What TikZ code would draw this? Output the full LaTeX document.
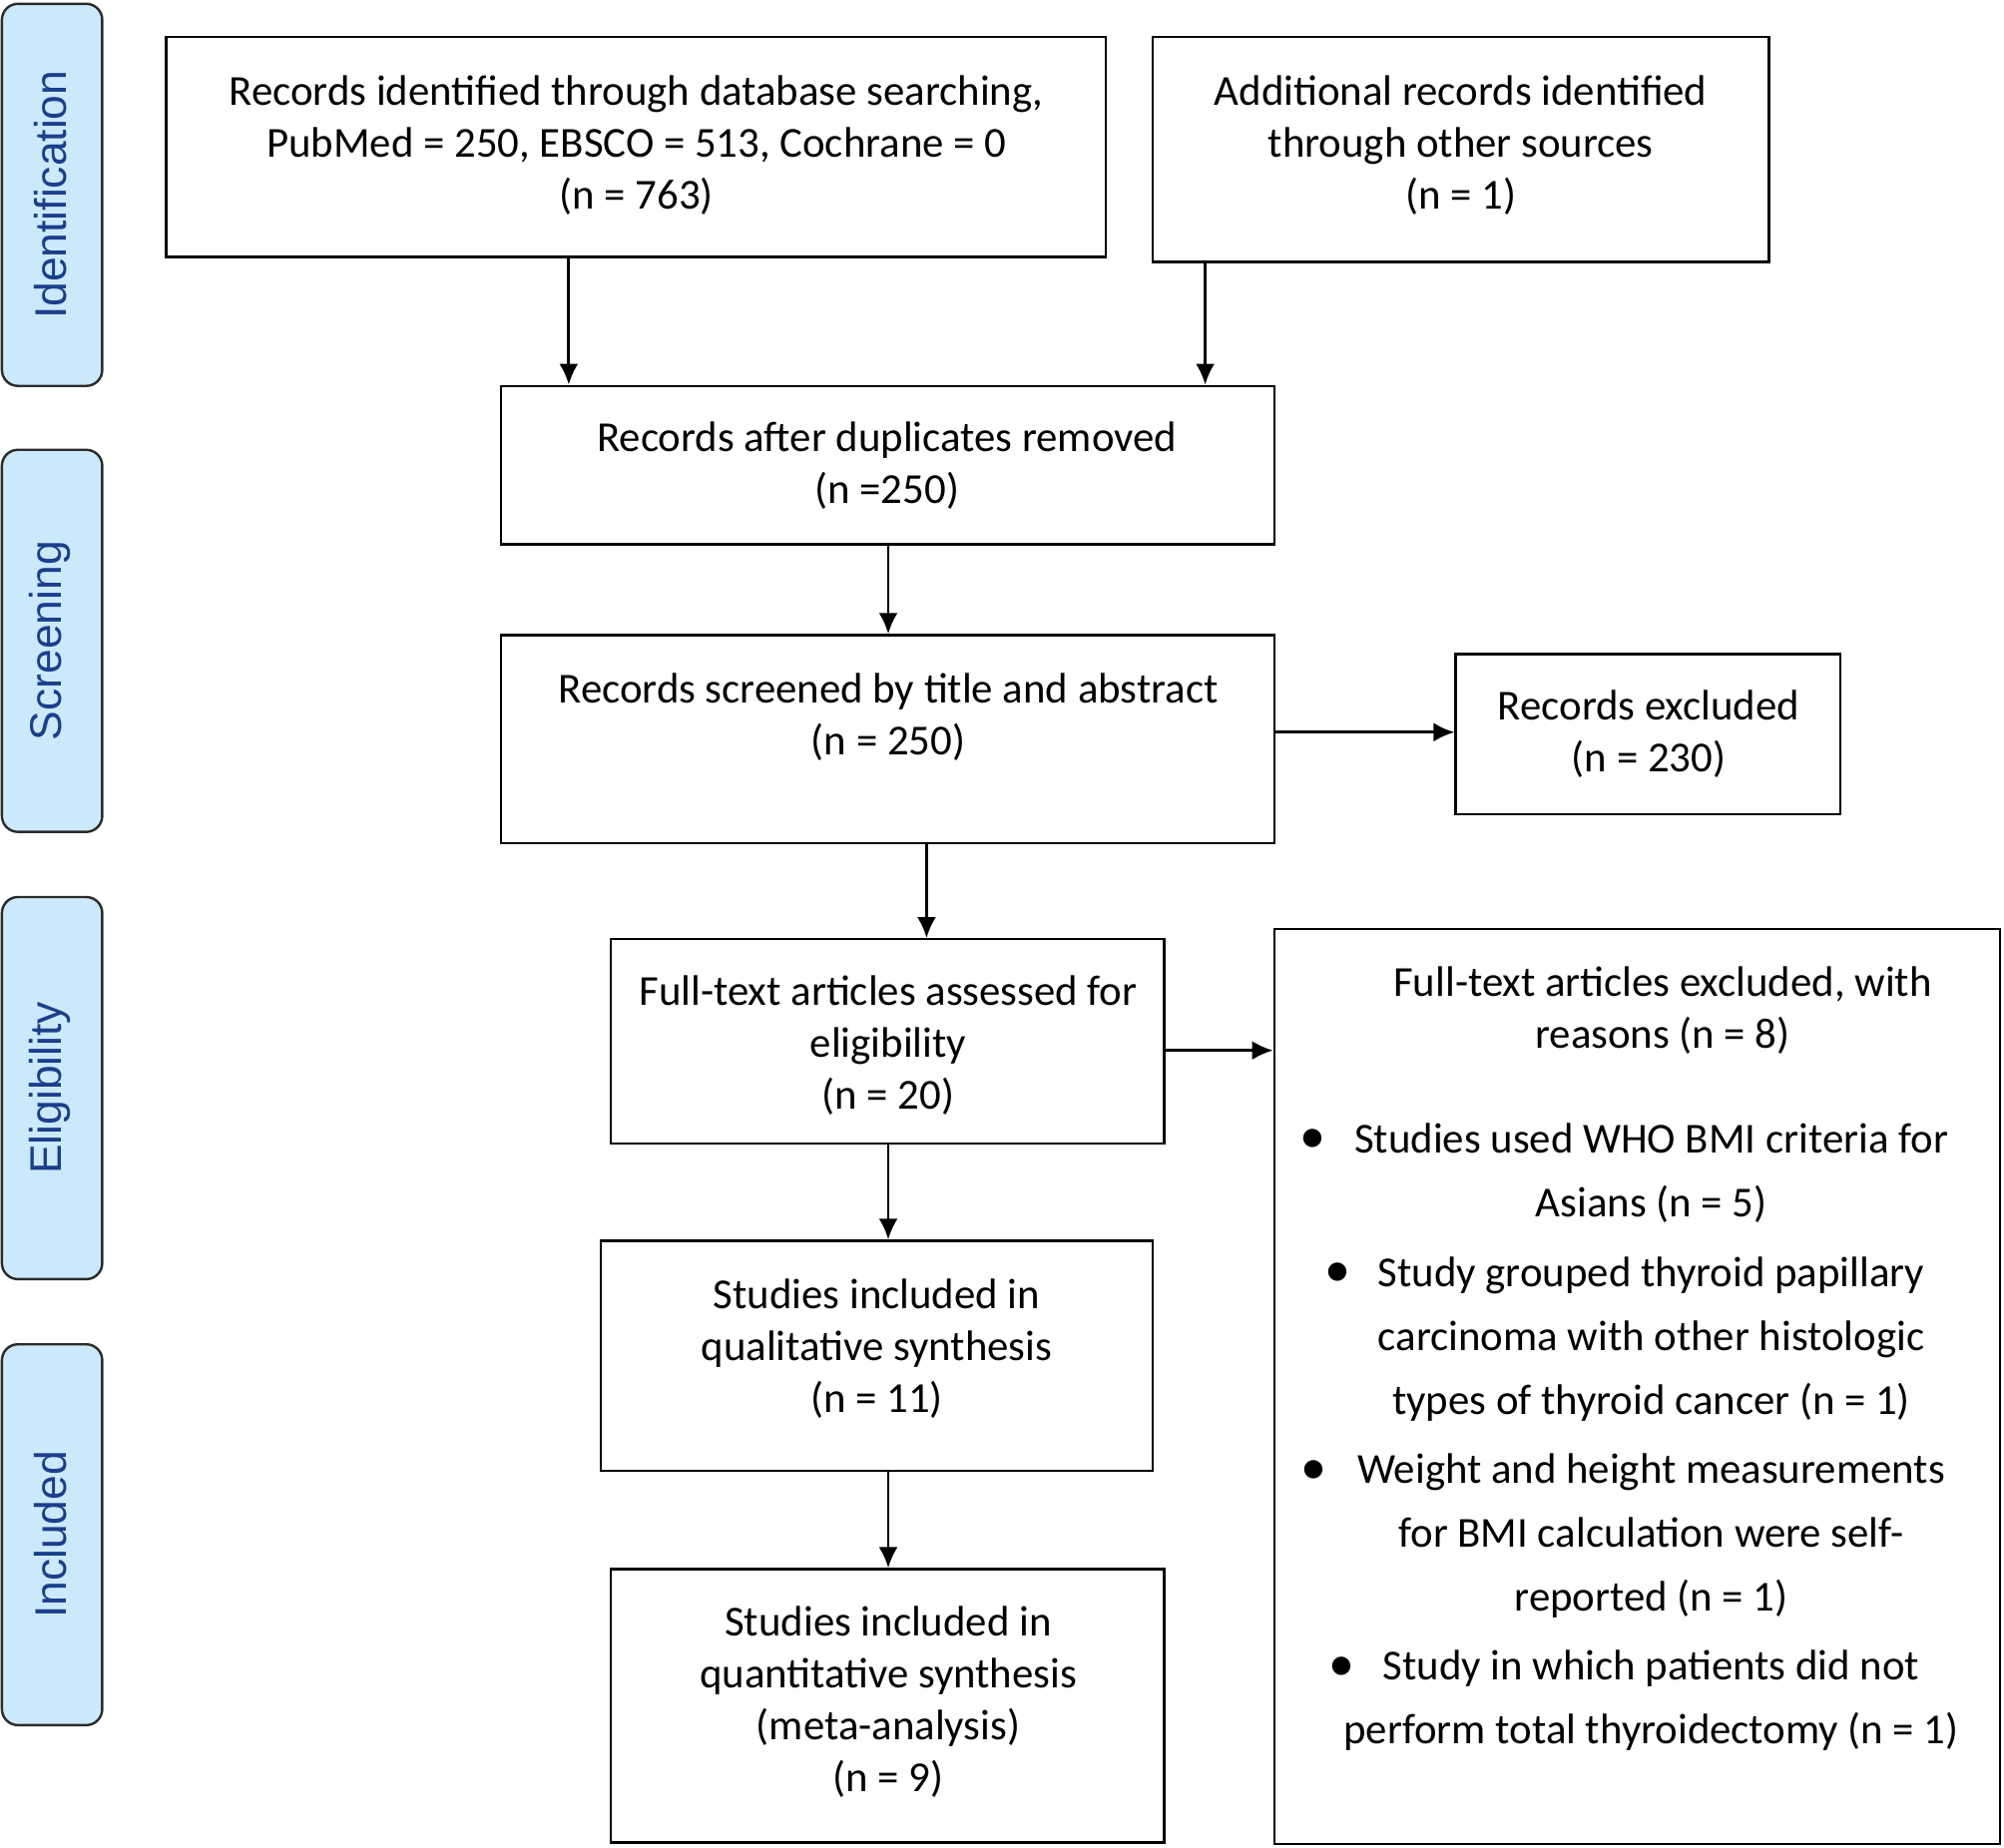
\documentclass[tikz,border=0pt]{standalone}
\usepackage{fontspec}
\setmainfont{Carlito}
\newfontfamily\sidefont{Liberation Sans}
\usetikzlibrary{arrows.meta,fit}
\definecolor{pillfill}{HTML}{CCE9FB}
\definecolor{pilltext}{HTML}{1A3F8C}
\definecolor{pillline}{HTML}{2B2B2B}
\begin{document}
\begin{tikzpicture}[x=0.6403pt,y=-0.6403pt,
  box/.style={draw=black,line width=1.2pt,inner sep=0pt},
  pill/.style={draw=pillline,fill=pillfill,line width=1.2pt,rounded corners=8pt,inner sep=0pt},
  side/.style={rotate=90,text=pilltext,font=\sidefont\fontsize{22.2}{25}\selectfont,inner sep=0pt},
  txt/.style={align=center,font=\fontsize{21.4}{25.9}\selectfont,inner sep=0pt},
  btxt/.style={align=center,font=\fontsize{21.4}{32}\selectfont,inner sep=0pt},
  bul/.style={font=\fontsize{26}{28}\selectfont,inner sep=0pt},
  arr/.style={-{Latex[length=10.5pt,width=9.5pt]},line width=1.4pt}]
\useasboundingbox (0,0) rectangle (1568,1446);
% side pills
\coordinate (p1a) at (1.5,3); \coordinate (p1b) at (80,302);
\coordinate (p2a) at (1.5,352); \coordinate (p2b) at (80,651);
\coordinate (p3a) at (1.5,702); \coordinate (p3b) at (80,1001);
\coordinate (p4a) at (1.5,1052); \coordinate (p4b) at (80,1350);
\node[pill,fit=(p1a)(p1b)] (s1) {};
\node[pill,fit=(p2a)(p2b)] (s2) {};
\node[pill,fit=(p3a)(p3b)] (s3) {};
\node[pill,fit=(p4a)(p4b)] (s4) {};
\node[side] at ([xshift=-1pt]s1.center) {Identification};
\node[side] at ([xshift=-1pt]s2.center) {Screening};
\node[side] at ([xshift=-1pt]s3.center) {Eligibility};
\node[side] at ([xshift=-1pt]s4.center) {Included};
% boxes
\coordinate (b1a) at (130,29);  \coordinate (b1b) at (865,201);
\coordinate (b2a) at (902,29);  \coordinate (b2b) at (1384,205);
\coordinate (b3a) at (392,302); \coordinate (b3b) at (997,426);
\coordinate (b4a) at (392,497); \coordinate (b4b) at (997,660);
\coordinate (b5a) at (1139,512); \coordinate (b5b) at (1440,637);
\coordinate (b6a) at (478,735); \coordinate (b6b) at (911,895);
\coordinate (b7a) at (997,727); \coordinate (b7b) at (1565,1443);
\coordinate (b8a) at (470,971); \coordinate (b8b) at (902,1151);
\coordinate (b9a) at (478,1228); \coordinate (b9b) at (911,1442);
\node[box,fit=(b1a)(b1b)] (b1) {};
\node[box,fit=(b2a)(b2b)] (b2) {};
\node[box,fit=(b3a)(b3b)] (b3) {};
\node[box,fit=(b4a)(b4b)] (b4) {};
\node[box,fit=(b5a)(b5b)] (b5) {};
\node[box,fit=(b6a)(b6b)] (b6) {};
\node[box,fit=(b7a)(b7b)] (b7) {};
\node[box,fit=(b8a)(b8b)] (b8) {};
\node[box,fit=(b9a)(b9b)] (b9) {};
% texts
\node[txt] (t1) at (498,113.5) {Records identified through database searching,\\PubMed = 250, EBSCO = 513, Cochrane = 0\\(n = 763)};
\node[txt] (t2) at (1143,113.5) {Additional records identified\\through other sources\\(n = 1)};
\node[txt] (t3) at (694,364.5) {Records after duplicates removed\\(n =250)};
\node[txt] (t4) at (695,561) {Records screened by title and abstract\\(n = 250)};
\node[txt] (t5) at (1290,574.5) {Records excluded\\(n = 230)};
\node[txt] (t6) at (695,818) {Full-text articles assessed for\\eligibility\\(n = 20)};
\node[txt] (t8) at (686,1055.5) {Studies included in\\qualitative synthesis\\(n = 11)};
\node[txt] (t9) at (695,1332) {Studies included in\\quantitative synthesis\\(meta-analysis)\\(n = 9)};
\node[txt] (t7) at (1301,790.5) {Full-text articles excluded, with\\reasons (n = 8)};
\node[btxt] (r1) at (1292,918) {Studies used WHO BMI criteria for\\Asians (n = 5)};
\node[btxt] (r2) at (1292,1048) {Study grouped thyroid papillary\\carcinoma with other histologic\\types of thyroid cancer (n = 1)};
\node[btxt] (r3) at (1292,1201.5) {Weight and height measurements\\for BMI calculation were self-\\reported (n = 1)};
\node[btxt] (r4) at (1292,1331) {Study in which patients did not\\perform total thyroidectomy (n = 1)};
\node[bul] (d1) at (1027,893) {•};
\node[bul] (d2) at (1047,998) {•};
\node[bul] (d3) at (1028,1152) {•};
\node[bul] (d4) at (1050,1306) {•};
% arrows
\draw[arr] (445,0 |- b1.south) -- (445,0 |- b3.north);
\draw[arr] (943,0 |- b2.south) -- (943,0 |- b3.north);
\draw[arr] (695,0 |- b3.south) -- (695,0 |- b4.north);
\draw[arr] (b4.east |- 0,573) -- (b5.west |- 0,573);
\draw[arr] (725,0 |- b4.south) -- (725,0 |- b6.north);
\draw[arr] (b6.east |- 0,822) -- (b7.west |- 0,822);
\draw[arr] (695,0 |- b6.south) -- (695,0 |- b8.north);
\draw[arr] (695,0 |- b8.south) -- (695,0 |- b9.north);
\end{tikzpicture}
\end{document}
